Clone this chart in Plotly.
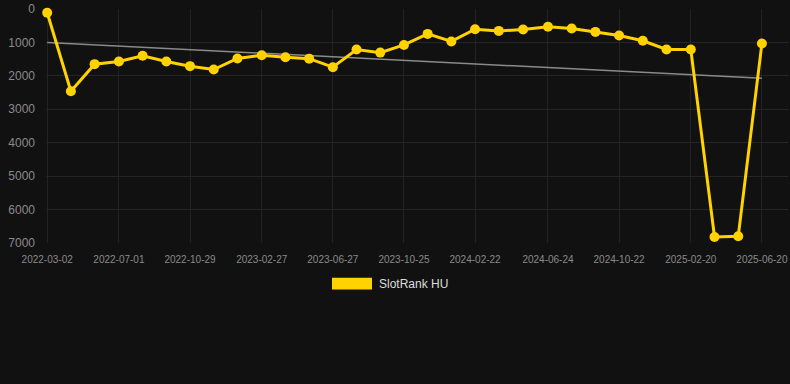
import plotly.graph_objects as go

dates = ["2022-03-02", "2022-04-11", "2022-05-21", "2022-07-01", "2022-08-10", "2022-09-19",
         "2022-10-29", "2022-12-08", "2023-01-17", "2023-02-27", "2023-04-08", "2023-05-18",
         "2023-06-27", "2023-08-06", "2023-09-15", "2023-10-25", "2023-12-04", "2024-01-13",
         "2024-02-22", "2024-04-02", "2024-05-13", "2024-06-24", "2024-08-03", "2024-09-12",
         "2024-10-22", "2024-12-01", "2025-01-10", "2025-02-20", "2025-04-01", "2025-05-11",
         "2025-06-20"]
ranks = [110, 2460, 1650, 1570, 1400, 1570, 1710, 1810, 1480, 1385, 1445, 1485,
         1740, 1210, 1305, 1075, 745, 970, 605, 655, 615, 530, 585, 685,
         795, 950, 1210, 1210, 6820, 6800, 1030]
trend_x = ["2022-03-02", "2025-06-20"]
trend_y = [1000, 2075]
tick_dates = ["2022-03-02", "2022-07-01", "2022-10-29", "2023-02-27", "2023-06-27", "2023-10-25",
              "2024-02-22", "2024-06-24", "2024-10-22", "2025-02-20", "2025-06-20"]
y_ticks = [0, 1000, 2000, 3000, 4000, 5000, 6000, 7000]
series_name = "SlotRank HU"

fig = go.Figure()
fig.add_trace(go.Scatter(x=trend_x, y=trend_y, mode="lines",
                         line=dict(color="#8a8a8a", width=1.5), hoverinfo="skip", showlegend=False))
fig.add_trace(go.Scatter(x=dates, y=ranks, mode="lines+markers", name=series_name,
                         line=dict(color="#FFD200", width=3), cliponaxis=False,
                         marker=dict(color="#FFD200", size=10), showlegend=False))

fig.update_layout(
    width=790, height=384,
    margin=dict(l=46, r=2, t=7, b=141),
    paper_bgcolor="#111111", plot_bgcolor="#111111",
    font=dict(family="Liberation Sans, Arial, sans-serif", color="#8a8a8a"),
    xaxis=dict(type="date", range=["2022-02-28", "2025-08-03"],
               tickvals=tick_dates, ticktext=tick_dates,
               tickfont=dict(size=10, color="#8a8a8a"),
               showgrid=True, gridcolor="#222222", gridwidth=1, zeroline=False,
               showline=False, ticks="", ticklabelstandoff=9),
    yaxis=dict(range=[7000, 0], tickvals=y_ticks,
               tickfont=dict(size=12, color="#8a8a8a"),
               showgrid=True, gridcolor="#252525", gridwidth=1, zeroline=False,
               showline=False, ticks="", ticklabelstandoff=10),
    shapes=[dict(type="rect", xref="paper", yref="paper",
                 x0=(332 - 46) / 742, x1=(372 - 46) / 742,
                 y0=(384 - 141 - 290) / 236, y1=(384 - 141 - 278) / 236,
                 fillcolor="#FFD200", line=dict(width=0))],
    annotations=[dict(text=series_name, xref="paper", yref="paper",
                      x=(377 - 46) / 742, y=(384 - 141 - 284) / 236,
                      xanchor="left", yanchor="middle", showarrow=False,
                      font=dict(size=12, color="#dddddd"))],
)

fig.write_html("out.html", config={"displayModeBar": False},
               post_script="document.body.style.margin='0';document.body.style.background='#111111';")
